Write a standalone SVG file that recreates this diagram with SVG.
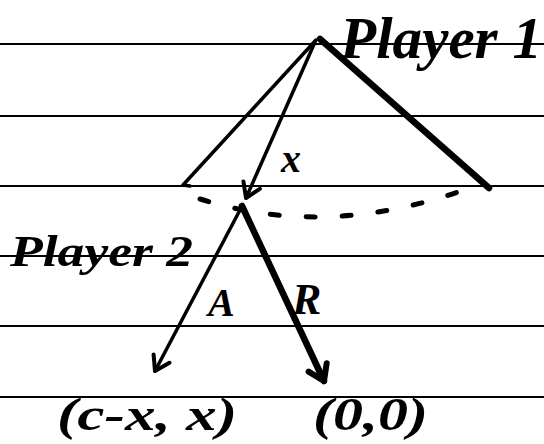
<svg xmlns="http://www.w3.org/2000/svg" width="544" height="444" viewBox="0 0 544 444">
  <style>
    .rule { stroke: #000; stroke-width: 2; }
    .edge { stroke: #000; fill: none; stroke-linecap: round; stroke-linejoin: round; }
    .thin { stroke-width: 3.5; }
    .thick { stroke-width: 6.5; }
    .hand { font-family: "Liberation Serif", "DejaVu Serif", serif; font-style: italic; font-weight: bold; fill: #000; }
  </style>
  <defs>
    <marker id="headThin" markerUnits="userSpaceOnUse" markerWidth="30" markerHeight="30" refX="0" refY="0" viewBox="-20 -15 30 30" orient="auto" overflow="visible">
      <path d="M -14 -9 L 0 0 L -14 9" fill="none" stroke="#000" stroke-width="4" stroke-linecap="round" stroke-linejoin="round"/>
    </marker>
    <marker id="headThick" markerUnits="userSpaceOnUse" markerWidth="30" markerHeight="30" refX="0" refY="0" viewBox="-20 -15 30 30" orient="auto" overflow="visible">
      <path d="M -15 -10 L 0 0 L -15 10" fill="none" stroke="#000" stroke-width="6" stroke-linecap="round" stroke-linejoin="round"/>
    </marker>
  </defs>

  <rect width="544" height="444" fill="#fff"/>

  <g id="ruled-lines">
    <line class="rule" x1="0" y1="44" x2="544" y2="44"/>
    <line class="rule" x1="0" y1="116" x2="544" y2="116"/>
    <line class="rule" x1="0" y1="186" x2="544" y2="186"/>
    <line class="rule" x1="0" y1="256" x2="544" y2="256"/>
    <line class="rule" x1="0" y1="326" x2="544" y2="326"/>
    <line class="rule" x1="0" y1="397" x2="544" y2="397"/>
  </g>

  <g id="connectors">
    <path class="edge thin" d="M 316 40 L 183 185 L 190 186"/>
    <path class="edge thin" d="M 315 42 L 246 198" marker-end="url(#headThin)"/>
    <path class="edge thick" d="M 320 39 L 489 188"/>
    <path class="edge thin" d="M 240 210 L 155 371" marker-end="url(#headThin)"/>
    <path class="edge thick" d="M 242 206 L 324 381" marker-end="url(#headThick)"/>
    <path class="edge" d="M 200 199 Q 330 240 472 187" stroke-width="5" stroke-dasharray="9 27"/>
  </g>

  <g id="player1">
    <text class="hand" x="340" y="58" font-size="60" textLength="202" lengthAdjust="spacingAndGlyphs">Player 1</text>
  </g>
  <g id="player2">
    <text class="hand" x="10" y="266" font-size="44" textLength="183" lengthAdjust="spacingAndGlyphs">Player 2</text>
  </g>

  <g id="labels">
    <text class="hand" x="281" y="172" font-size="40">x</text>
    <text class="hand" x="208" y="316" font-size="40">A</text>
    <text class="hand" x="292" y="314" font-size="44">R</text>
  </g>

  <g id="payoff-accept">
    <text class="hand" x="57" y="430" font-size="46" textLength="180" lengthAdjust="spacingAndGlyphs">(c-x, x)</text>
  </g>
  <g id="payoff-reject">
    <text class="hand" x="313" y="430" font-size="46" textLength="115" lengthAdjust="spacingAndGlyphs">(0,0)</text>
  </g>
</svg>
